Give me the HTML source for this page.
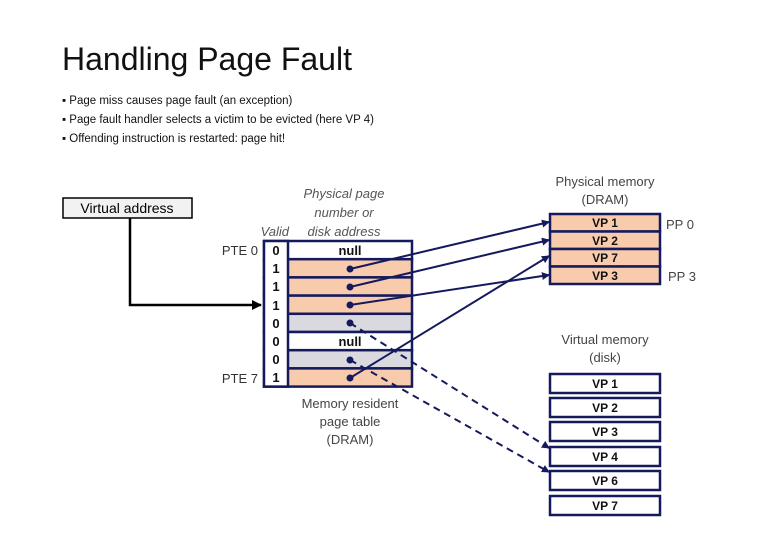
<!DOCTYPE html>
<html><head><meta charset="utf-8"><style>body{margin:0;background:#fff}svg{display:block}text{font-family:"Liberation Sans",sans-serif}</style></head><body>
<svg width="780" height="540" viewBox="0 0 780 540" xmlns="http://www.w3.org/2000/svg">
<defs>
<marker id="ah" markerWidth="8" markerHeight="8" refX="7" refY="4" orient="auto" markerUnits="userSpaceOnUse"><path d="M0,0 L8,4 L0,8 z" fill="#141a5c"/></marker>
<marker id="ahk" markerWidth="10" markerHeight="10" refX="9" refY="5" orient="auto" markerUnits="userSpaceOnUse"><path d="M0,0 L10,5 L0,10 z" fill="#000"/></marker>
</defs>
<text x="62" y="70" font-size="32" fill="#111">Handling Page Fault</text>
<g font-size="11.5" fill="#111">
<text x="62" y="104">▪  Page miss causes page fault (an exception)</text>
<text x="62" y="123">▪  Page fault handler selects a victim to be evicted (here VP 4)</text>
<text x="62" y="142">▪  Offending instruction is restarted: page hit!</text>
</g>
<rect x="63" y="198" width="129" height="20" fill="#f2f2f2" stroke="#000" stroke-width="1.5"/>
<text x="127" y="213" font-size="14" text-anchor="middle">Virtual address</text>
<polyline points="130,218 130,305 261,305" fill="none" stroke="#000" stroke-width="2.5" marker-end="url(#ahk)"/>
<g font-size="13" fill="#555" font-style="italic" text-anchor="middle">
<text x="344" y="198">Physical page</text><text x="344" y="217">number or</text><text x="344" y="236">disk address</text>
</g>
<text x="289" y="236" font-size="13" fill="#555" font-style="italic" text-anchor="end">Valid</text>
<g font-size="13" fill="#333"><text x="258" y="255" text-anchor="end">PTE 0</text><text x="258" y="383" text-anchor="end">PTE 7</text></g>
<g stroke="#141a5c" stroke-width="2.5">
<rect x="264" y="241" width="148" height="18.2" fill="#fff"/>
<rect x="264" y="259.2" width="148" height="18.2" fill="#f8cbad"/>
<rect x="264" y="277.4" width="148" height="18.2" fill="#f8cbad"/>
<rect x="264" y="295.6" width="148" height="18.2" fill="#f8cbad"/>
<rect x="264" y="313.8" width="148" height="18.2" fill="#d9d9df"/>
<rect x="264" y="332" width="148" height="18.2" fill="#fff"/>
<rect x="264" y="350.2" width="148" height="18.2" fill="#d9d9df"/>
<rect x="264" y="368.4" width="148" height="18.2" fill="#f8cbad"/>
<rect x="264" y="241" width="24" height="145.6" fill="#fff"/>
</g>
<g font-size="13" font-weight="bold" fill="#111" text-anchor="middle">
<text x="276" y="255">0</text><text x="276" y="273">1</text><text x="276" y="291">1</text><text x="276" y="310">1</text><text x="276" y="328">0</text><text x="276" y="346">0</text><text x="276" y="364">0</text><text x="276" y="382">1</text>
<text x="350" y="255">null</text><text x="350" y="346">null</text>
</g>
<g font-size="13" fill="#444" text-anchor="middle"><text x="350" y="408">Memory resident</text><text x="350" y="426">page table</text><text x="350" y="444">(DRAM)</text></g>
<g font-size="13" fill="#444" text-anchor="middle"><text x="605" y="186">Physical memory</text><text x="605" y="204">(DRAM)</text>
<text x="605" y="344">Virtual memory</text><text x="605" y="362">(disk)</text></g>
<g stroke="#141a5c" stroke-width="2.5" fill="#f8cbad">
<rect x="550" y="214" width="110" height="17.5"/><rect x="550" y="231.5" width="110" height="17.5"/><rect x="550" y="249" width="110" height="17.5"/><rect x="550" y="266.5" width="110" height="17.5"/>
</g>
<g font-size="12" font-weight="bold" fill="#111" text-anchor="middle">
<text x="605" y="227">VP 1</text><text x="605" y="245">VP 2</text><text x="605" y="262">VP 7</text><text x="605" y="280">VP 3</text>
</g>
<g font-size="13" fill="#444"><text x="666" y="229">PP 0</text><text x="668" y="281">PP 3</text></g>
<g stroke="#141a5c" stroke-width="2.5" fill="#fff">
<rect x="550" y="374" width="110" height="19"/><rect x="550" y="398" width="110" height="19"/><rect x="550" y="422" width="110" height="19"/><rect x="550" y="447" width="110" height="19"/><rect x="550" y="471" width="110" height="19"/><rect x="550" y="496" width="110" height="19"/>
</g>
<g font-size="12" font-weight="bold" fill="#111" text-anchor="middle">
<text x="605" y="388">VP 1</text><text x="605" y="412">VP 2</text><text x="605" y="436">VP 3</text><text x="605" y="461">VP 4</text><text x="605" y="485">VP 6</text><text x="605" y="510">VP 7</text>
</g>
<g fill="#141a5c"><circle cx="350" cy="269" r="3.5"/><circle cx="350" cy="287" r="3.5"/><circle cx="350" cy="305" r="3.5"/><circle cx="350" cy="323" r="3.5"/><circle cx="350" cy="360" r="3.5"/><circle cx="350" cy="378" r="3.5"/></g>
<g stroke="#141a5c" stroke-width="2" fill="none" marker-end="url(#ah)">
<line x1="350" y1="269" x2="549" y2="222"/>
<line x1="350" y1="287" x2="549" y2="240"/>
<line x1="350" y1="305" x2="549" y2="275"/>
<line x1="350" y1="378" x2="549" y2="256"/>
<line x1="350" y1="323" x2="549" y2="448" stroke-dasharray="7,5"/>
<line x1="350" y1="360" x2="549" y2="472" stroke-dasharray="7,5"/>
</g>
</svg>
</body></html>
